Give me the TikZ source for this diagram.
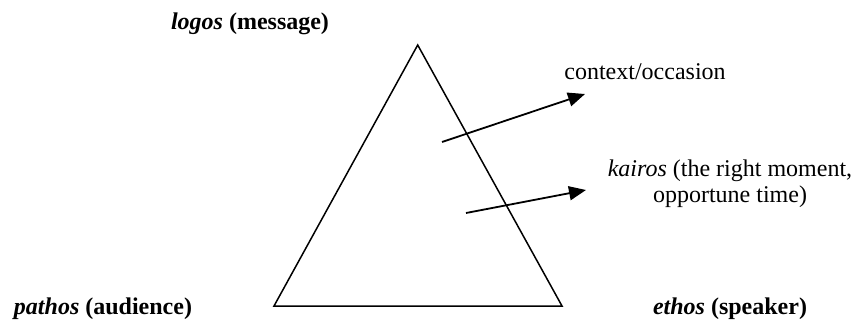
\documentclass[tikz,border=0pt]{standalone}
\usepackage{fontspec}
\setmainfont{Liberation Serif}
\usepackage{tikz}
\usetikzlibrary{arrows.meta, positioning}
\tikzset{
  side/.style    = {draw=black, line width=0.75pt, line join=miter},
  pointer/.style = {-{Triangle[length=8.5pt, width=7pt]}, line width=0.9pt, black},
  lbl/.style     = {inner sep=0pt, anchor=base, font=\fontsize{12}{13}\selectfont},
  cornerlbl/.style = {lbl, font=\fontsize{12}{13}\selectfont\bfseries},
}

\begin{document}
\begin{tikzpicture}[x=0.5pt, y=-0.5pt]
\useasboundingbox (0,0) rectangle (855,322);

% ===== triangle =====
\coordinate (top)   at (417.7,45);
\coordinate (left)  at (274,306);
\coordinate (right) at (562,306);
\draw[side] (top) -- (right) -- (left) -- cycle;

% ===== corner labels =====
\node[cornerlbl] (logos)  at (250,29)  {\textit{logos} (message)};
\node[cornerlbl] (pathos) at (103,314) {\textit{pathos} (audience)};
\node[cornerlbl] (ethos)  at (730,314) {\textit{ethos} (speaker)};

% ===== side notes =====
\node[lbl] (context) at (645,79) {context/occasion};
% base of a two-line node is its last line
\node[lbl, align=center] (kairos) at (730,202) {\textit{kairos} (the right moment,\\ opportune time)};

% arrows
\coordinate (ctxtail) at (442,142);
\coordinate (ctxtip)  at (585,94);
\coordinate (kaitail) at (466,213);
\coordinate (kaitip)  at (586,190);
\draw[pointer] (ctxtail) -- (ctxtip);
\draw[pointer] (kaitail) -- (kaitip);

\end{tikzpicture}
\end{document}
